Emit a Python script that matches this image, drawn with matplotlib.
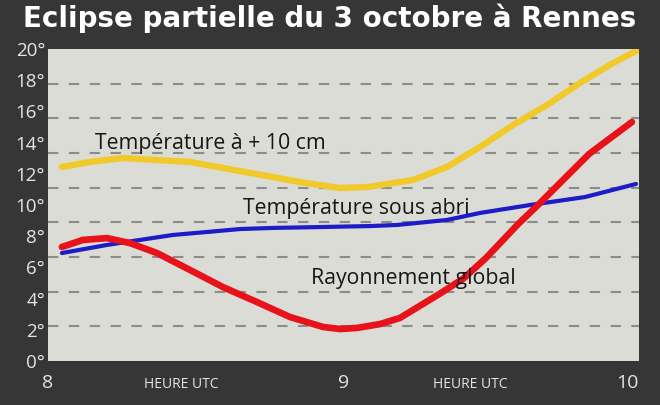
import numpy as np
import matplotlib
matplotlib.use("Agg")
import matplotlib.pyplot as plt
from matplotlib.ticker import FixedLocator
import matplotlib.transforms as mtransforms

# ---- data (hours UTC, degrees) ----
yellow_h = [8.047, 8.142, 8.254, 8.481, 8.761, 8.853, 8.988, 9.080, 9.124, 9.235,
            9.350, 9.462, 9.574, 9.689, 9.800, 9.912, 9.990]
yellow_v = [12.44, 12.76, 13.01, 12.76, 11.79, 11.47, 11.09, 11.15, 11.28, 11.60,
            12.44, 13.72, 15.13, 16.41, 17.82, 19.10, 19.87]

blue_h = [8.047, 8.200, 8.311, 8.423, 8.538, 8.650, 8.761, 8.931, 9.090, 9.181,
          9.350, 9.462, 9.631, 9.817, 9.990]
blue_v = [6.92, 7.44, 7.76, 8.08, 8.27, 8.46, 8.53, 8.59, 8.65, 8.72,
          9.04, 9.49, 10.00, 10.51, 11.35]

red_h = [8.047, 8.118, 8.200, 8.277, 8.369, 8.481, 8.592, 8.707, 8.819, 8.931,
         8.988, 9.046, 9.124, 9.191, 9.330, 9.408, 9.482, 9.591, 9.655, 9.831, 9.976]
red_v = [7.31, 7.76, 7.88, 7.56, 6.92, 5.83, 4.74, 3.78, 2.82, 2.18,
         2.05, 2.12, 2.37, 2.76, 4.36, 5.32, 6.60, 8.78, 9.94, 13.27, 15.32]

yticks = list(range(0, 21, 2))
ytick_labels = [f"{v}°" for v in yticks]
xticks = [8, 9, 10]
xtick_labels = ["8", "9", "10"]
hour_label_pos = [8.45, 9.43]
hour_label = "HEURE UTC"

title = "Eclipse partielle du 3 octobre à Rennes"
lab_yellow = "Température à + 10 cm"
lab_blue = "Température sous abri"
lab_red = "Rayonnement global"

BG = "#363636"
PLOT_BG = "#dcdcd7"

fig = plt.figure(figsize=(6.6, 4.05), dpi=100, facecolor=BG)
ax = fig.add_axes([48/660, 1-361/405, (639-48)/660, (361-49)/405])
ax.set_facecolor(PLOT_BG)
ax.set_xlim(8, 10)
ax.set_ylim(0, 20)

for s in ax.spines.values():
    s.set_visible(False)

# grid: 9 equal intervals as in the graphic
ax.yaxis.set_minor_locator(FixedLocator(np.linspace(0, 20, 10)[:-1]))
ax.grid(which="minor", axis="y", color="#8c8c8a", linestyle=(0, (5, 5)), linewidth=1.5)
ax.grid(which="major", visible=False)
ax.set_axisbelow(True)
ax.tick_params(which="minor", length=0)

ax.set_yticks(yticks)
ax.set_yticklabels(ytick_labels, fontsize=13.5, color="#e4e4e4", family="Open Sans")
ax.set_xticks(xticks)
ax.set_xticklabels(xtick_labels, fontsize=14, color="#e4e4e4", family="Open Sans")
ax.tick_params(axis="y", length=0, pad=2)
ax.tick_params(axis="x", length=0, pad=9)
xl = ax.get_xticklabels()
xl[-1].set_horizontalalignment("right")
xl[-1].set_x(10)

ax.plot(yellow_h, yellow_v, color="#f1c92a", lw=4.6, solid_capstyle="round", solid_joinstyle="round")
ax.plot(blue_h, blue_v, color="#1c1cc8", lw=3.0, solid_capstyle="round", solid_joinstyle="round")
ax.plot(red_h, red_v, color="#e8121a", lw=4.8, solid_capstyle="round", solid_joinstyle="round")

tfont = dict(family="Open Sans", fontsize=15.3, color="#161616")
ax.text(8.159, 13.59, lab_yellow, ha="left", va="baseline", **tfont)
ax.text(8.66, 9.42, lab_blue, ha="left", va="baseline", **tfont)
ax.text(8.89, 4.94, lab_red, ha="left", va="baseline", **tfont)

trans = mtransforms.blended_transform_factory(ax.transData, fig.transFigure)
for xp in hour_label_pos:
    ax.text(xp, 1-384/405, hour_label, transform=trans, ha="center", va="center",
            fontsize=10, color="#e4e4e4", family="Open Sans")

fig.text(0.5, 1-18/405, title, ha="center", va="center", fontsize=20,
         fontweight="heavy", color="white", family="DejaVu Sans")

fig.savefig("out.png", dpi=100, facecolor=BG)
